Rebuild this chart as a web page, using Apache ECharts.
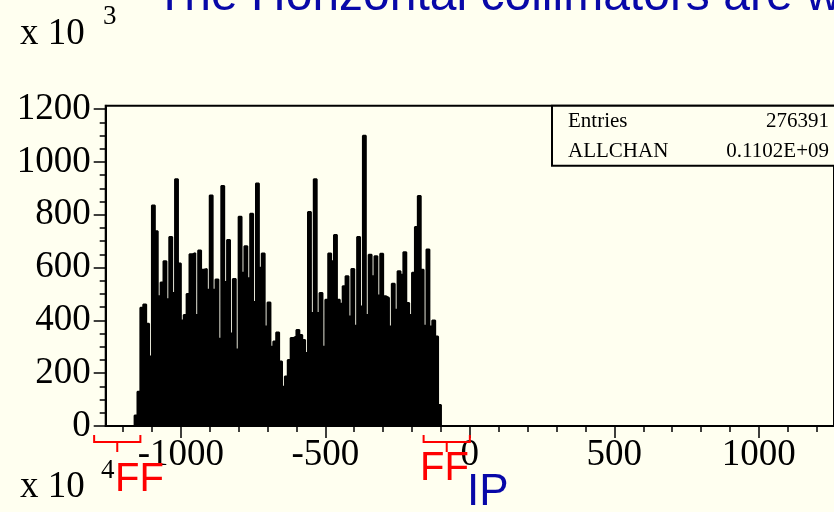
<!DOCTYPE html>
<html><head><meta charset="utf-8">
<script src="https://cdn.jsdelivr.net/npm/echarts@6/dist/echarts.min.js"></script>
<style>html,body{margin:0;padding:0;background:#fffff0}#c{width:834px;height:512px}</style>
</head><body><div id="c"></div>
<script>
// Histogram: bin start, bin width and counts (x 10^3)
const binStart = -1160;
const binWidth = 10;
const counts = [
  40, 130, 448, 460, 387, 263, 835, 738, 491, 543,
  624, 480, 716, 504, 934, 615, 400, 420, 500, 650,
  655, 420, 665, 592, 595, 516, 873, 516, 555, 330,
  909, 545, 704, 350, 557, 290, 792, 580, 681, 560,
  804, 470, 918, 599, 653, 377, 468, 300, 320, 354,
  244, 149, 187, 250, 333, 340, 364, 345, 326, 276,
  810, 428, 934, 428, 504, 300, 478, 653, 624, 723,
  478, 463, 529, 567, 415, 595, 380, 716, 453, 1099,
  420, 649, 567, 643, 494, 652, 491, 485, 377, 539,
  440, 586, 573, 658, 466, 420, 580, 754, 871, 592,
  380, 668, 377, 400, 339, 80
];
const xRange = [-1260, 1260];
const yRange = [0, 1213];
const xMajorTicks = [-1000, -500, 0, 500, 1000];
const xMinorTicks = [-1200,-1100,-900,-800,-700,-600,-400,-300,-200,-100,100,200,300,400,600,700,800,900,1100,1200];
const yMajorTicks = [0, 200, 400, 600, 800, 1000, 1200];
const yMinorTicks = [50,100,150,250,300,350,450,500,550,650,700,750,850,900,950,1050,1100,1150];
const statsNames = ['Entries', 'ALLCHAN'];
const statsValues = ['276391', '0.1102E+09'];
const ffBrackets = [[-1300, -1140], [-160, 0]];
const titleText = 'The Horizontal collimators are w';

const pts = [[xRange[0], 0]];
counts.forEach((c, i) => pts.push([binStart + i * binWidth, c]));
pts.push([binStart + counts.length * binWidth, 0]);
pts.push([xRange[1], 0]);

const serif = '"Liberation Serif", "Times New Roman", serif';
const sans = '"Liberation Sans", Arial, sans-serif';
const bg = '#fffff0';
const plain = v => String(v);

const chart = echarts.init(document.getElementById('c'), null, {renderer: 'canvas'});
const option = {
  backgroundColor: bg,
  animation: false,
  grid: {left: 105.7, right: -14.3, top: 105.7, bottom: 86, show: true,
         borderColor: '#000', borderWidth: 2, backgroundColor: 'transparent'},
  xAxis: [
    {type: 'value', min: xRange[0], max: xRange[1], position: 'bottom',
     axisLine: {show: true, onZero: false, lineStyle: {color: '#000', width: 2}},
     axisTick: {show: true, customValues: xMajorTicks, length: 12, lineStyle: {color: '#000', width: 1.5}},
     axisLabel: {customValues: xMajorTicks, formatter: plain, fontFamily: serif, fontSize: 37, color: '#000', margin: 11},
     splitLine: {show: false}},
    {type: 'value', min: xRange[0], max: xRange[1], position: 'bottom',
     axisLine: {show: false, onZero: false},
     axisTick: {show: true, customValues: xMinorTicks, length: 6, lineStyle: {color: '#000', width: 1.5}},
     axisLabel: {show: false}, splitLine: {show: false}}
  ],
  yAxis: [
    {type: 'value', min: yRange[0], max: yRange[1], position: 'left',
     axisLine: {show: true, onZero: false, lineStyle: {color: '#000', width: 2}},
     axisTick: {show: true, customValues: yMajorTicks, length: 12, lineStyle: {color: '#000', width: 1.5}},
     axisLabel: {customValues: yMajorTicks, formatter: plain, fontFamily: serif, fontSize: 37, color: '#000', margin: 15},
     splitLine: {show: false}},
    {type: 'value', min: yRange[0], max: yRange[1], position: 'left',
     axisLine: {show: false, onZero: false},
     axisTick: {show: true, customValues: yMinorTicks, length: 6, lineStyle: {color: '#000', width: 1.5}},
     axisLabel: {show: false}, splitLine: {show: false}}
  ],
  series: [{
    type: 'line', step: 'end', data: pts, symbol: 'none', xAxisIndex: 0, yAxisIndex: 0,
    lineStyle: {color: '#000', width: 2},
    areaStyle: {color: '#000', opacity: 1},
    z: 3
  }]
};
chart.setOption(option);

const px = v => chart.convertToPixel({xAxisIndex: 0}, v);
const y0 = chart.convertToPixel({yAxisIndex: 0}, 0);
const gfx = [];
// title (cut off at top)
gfx.push({type: 'text', style: {text: titleText, x: 155, y: -3, font: '48px ' + sans, fill: '#0808a8', verticalAlign: 'middle'}});
// exponent labels
gfx.push({type: 'text', style: {text: 'x 10', x: 20, y: 34, font: '37px ' + serif, fill: '#000', verticalAlign: 'middle'}});
gfx.push({type: 'text', style: {text: '3', x: 103, y: 17, font: '27px ' + serif, fill: '#000', verticalAlign: 'middle'}});
gfx.push({type: 'text', style: {text: 'x 10', x: 20, y: 487, font: '37px ' + serif, fill: '#000', verticalAlign: 'middle'}});
gfx.push({type: 'text', style: {text: '4', x: 101, y: 471, font: '27px ' + serif, fill: '#000', verticalAlign: 'middle'}});
// stats box
gfx.push({type: 'rect', shape: {x: 552, y: 105.7, width: 300, height: 60}, style: {fill: bg, stroke: '#000', lineWidth: 2}, z: 10});
statsNames.forEach((n, i) => {
  gfx.push({type: 'text', z: 11, style: {text: n, x: 568, y: 121 + i * 30, font: '21px ' + serif, fill: '#000', verticalAlign: 'middle'}});
  gfx.push({type: 'text', z: 11, style: {text: statsValues[i], x: 829, y: 121 + i * 30, font: '21px ' + serif, fill: '#000', verticalAlign: 'middle', align: 'right'}});
});
// FF brackets
ffBrackets.forEach(([a, b]) => {
  const xa = px(a), xb = px(b), xc = px((a + b) / 2);
  gfx.push({type: 'polyline', z: 12, shape: {points: [[xa, y0 + 9], [xa, y0 + 16], [xc, y0 + 16], [xc, y0 + 26], [xc, y0 + 16], [xb, y0 + 16], [xb, y0 + 9]]},
            style: {stroke: '#ff0000', lineWidth: 2, fill: null}});
});
gfx.push({type: 'text', z: 12, style: {text: 'FF', x: 115, y: 480, font: '40px ' + sans, fill: '#ff0000', verticalAlign: 'middle'}});
gfx.push({type: 'text', z: 12, style: {text: 'FF', x: 420, y: 469, font: '40px ' + sans, fill: '#ff0000', verticalAlign: 'middle'}});
gfx.push({type: 'text', z: 12, style: {text: 'IP', x: 467, y: 493, font: '44px ' + sans, fill: '#0808a8', verticalAlign: 'middle'}});
chart.setOption({graphic: gfx});
</script>
</body></html>
